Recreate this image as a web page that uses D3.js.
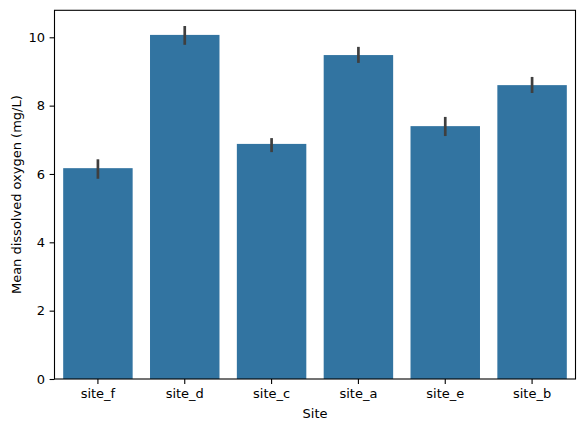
<!DOCTYPE html>
<html>
<head>
<meta charset="utf-8">
<script src="https://cdn.jsdelivr.net/npm/d3@7"></script>
<style>
  body { margin: 0; background: #fff; }
  text { font-family: "DejaVu Sans", sans-serif; fill: #000; }
</style>
</head>
<body>
<div id="chart"></div>
<script>
// datos
const sites = ["site_f", "site_d", "site_c", "site_a", "site_e", "site_b"];
const meanDO = [6.17, 10.07, 6.88, 9.48, 7.40, 8.60];
const ciLow = [5.86, 9.78, 6.64, 9.25, 7.11, 8.37];
const ciHigh = [6.43, 10.33, 7.05, 9.72, 7.67, 8.84];
const yTicks = [0, 2, 4, 6, 8, 10];

const ancho = 584;
const alto = 431;
const marginLeft = 54.5;
const marginRight = 8.5;
const marginTop = 10.3;
const marginBottom = 52;
const fontSize = "13px";

const svg = d3.select("#chart")
  .append("svg")
  .attr("width", ancho)
  .attr("height", alto);

const xScale = d3.scaleBand()
  .domain(sites)
  .range([marginLeft, ancho - marginRight])
  .paddingInner(0.2)
  .paddingOuter(0.1);

const yScale = d3.scaleLinear()
  .domain([0, 10.79])
  .range([alto - marginBottom, marginTop]);

const datos = sites.map((s, i) => ({ site: s, mean: meanDO[i], lo: ciLow[i], hi: ciHigh[i] }));

// barras
svg.selectAll("rect.bar")
  .data(datos)
  .enter()
  .append("rect")
  .attr("class", "bar")
  .attr("x", d => xScale(d.site))
  .attr("y", d => yScale(d.mean))
  .attr("width", xScale.bandwidth())
  .attr("height", d => yScale(0) - yScale(d.mean))
  .attr("fill", "#3274a1");

// barras de error
svg.selectAll("line.err")
  .data(datos)
  .enter()
  .append("line")
  .attr("class", "err")
  .attr("x1", d => xScale(d.site) + xScale.bandwidth() / 2)
  .attr("x2", d => xScale(d.site) + xScale.bandwidth() / 2)
  .attr("y1", d => yScale(d.lo))
  .attr("y2", d => yScale(d.hi))
  .attr("stroke", "#3f3f3f")
  .attr("stroke-width", 2.7);

// ejes
const xAxis = d3.axisBottom(xScale).tickSizeOuter(0).tickSize(4.9).tickPadding(4.5);
const yAxis = d3.axisLeft(yScale).tickValues(yTicks).tickSizeOuter(0).tickSize(4.9).tickPadding(4.5);

const gx = svg.append("g")
  .attr("transform", "translate(0," + yScale(0) + ")")
  .call(xAxis);
gx.select(".domain").remove();
gx.selectAll("text").attr("font-size", fontSize).attr("font-family", "DejaVu Sans").attr("fill", "#000");
gx.selectAll("line").attr("stroke", "#000").attr("stroke-width", 1.1);

const gy = svg.append("g")
  .attr("transform", "translate(" + marginLeft + ",0)")
  .call(yAxis);
gy.select(".domain").remove();
gy.selectAll("text").attr("font-size", fontSize).attr("font-family", "DejaVu Sans").attr("fill", "#000");
gy.selectAll("line").attr("stroke", "#000").attr("stroke-width", 1.1);

// marco
svg.append("rect")
  .attr("x", marginLeft)
  .attr("y", marginTop)
  .attr("width", ancho - marginRight - marginLeft)
  .attr("height", yScale(0) - marginTop)
  .attr("fill", "none")
  .attr("stroke", "#000")
  .attr("stroke-width", 1.1);

// titulos de ejes
svg.append("text")
  .attr("x", (marginLeft + ancho - marginRight) / 2)
  .attr("y", 418)
  .attr("text-anchor", "middle")
  .attr("font-size", fontSize)
  .text("Site");

svg.append("text")
  .attr("transform", "translate(20.7," + ((marginTop + yScale(0)) / 2) + ") rotate(-90)")
  .attr("text-anchor", "middle")
  .attr("font-size", fontSize)
  .text("Mean dissolved oxygen (mg/L)");
</script>
</body>
</html>
